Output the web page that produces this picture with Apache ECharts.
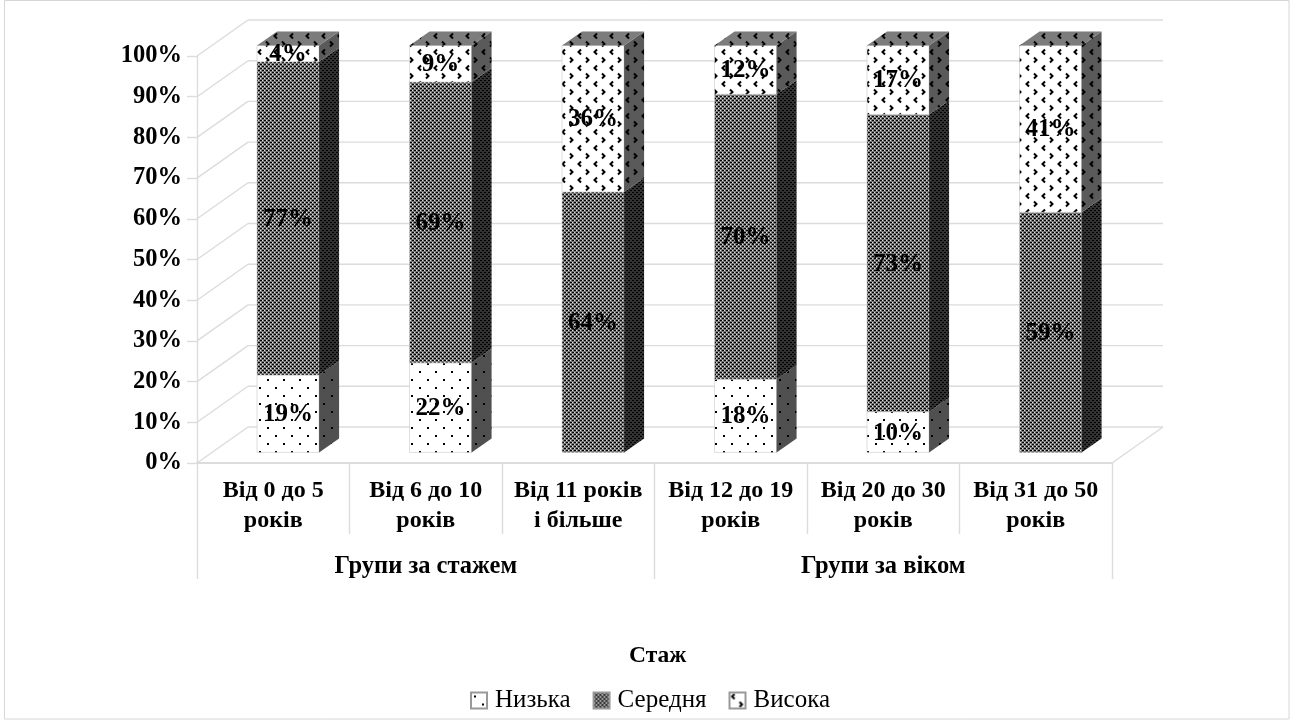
<!DOCTYPE html>
<html><head><meta charset="utf-8">
<style>html,body{margin:0;padding:0;background:#fff}#c{width:1290px;height:720px;filter:blur(0.5px)}</style>
<script src="https://cdn.jsdelivr.net/npm/echarts@6/dist/echarts.min.js"></script>
</head><body><div id="c"></div>
<script>
const categories = ['Від 0 до 5\nроків','Від 6 до 10\nроків','Від 11 років\nі більше','Від 12 до 19\nроків','Від 20 до 30\nроків','Від 31 до 50\nроків'];
const groups = ['Групи за стажем','Групи за віком'];
const low = [19,22,0,18,10,0];
const mid = [77,69,64,70,73,59];
const high = [4,9,36,12,17,41];
const yTicks = [0,10,20,30,40,50,60,70,80,90,100];
const seriesNames = ['Низька','Середня','Висока'];

const FONT = '"Liberation Serif","Times New Roman",serif';
const GRID = '#dcdcdc';

function tile(w, h, bg, draw){
  const c = document.createElement('canvas'); c.width = w; c.height = h;
  const g = c.getContext('2d'); g.fillStyle = bg; g.fillRect(0,0,w,h); draw(g);
  return {image:c, repeat:'repeat'};
}
const dots = bg => tile(16,16,bg,g=>{g.fillStyle='#000';g.fillRect(3,3,2,2);g.fillRect(11,11,2,2);});
const chev = bg => tile(16,16,bg,g=>{
  g.strokeStyle='#000';g.lineWidth=2;
  g.beginPath();g.moveTo(5,1.5);g.lineTo(2.5,4);g.lineTo(5,6.5);g.stroke();
  g.beginPath();g.moveTo(10,9.5);g.lineTo(12.5,12);g.lineTo(10,14.5);g.stroke();
});
const fine = (bg,hi) => tile(4,4,bg,g=>{
  g.fillStyle='#000';g.fillRect(0,0,2,1);g.fillRect(2,2,2,1);
  g.fillStyle=hi;g.fillRect(2,0,1,1);g.fillRect(0,2,1,1);
});
const fills = [
  {front:dots('#ffffff'), side:dots('#505050'), top:dots('#777777')},
  {front:fine('#777777','#e4e4e4'), side:fine('#303030','#3c3c3c'), top:fine('#777777','#e4e4e4')},
  {front:chev('#ffffff'), side:chev('#5a5a5a'), top:chev('#7c7c7c')}
];

const stack = [low, mid, high];

function barRender(si){
  return function(params, api){
    const i = api.value(0), v = api.value(1);
    if (!v) return {type:'group', children:[]};
    let base = 0; for (let k=0;k<si;k++) base += stack[k][i];
    const catW = api.size([1,0])[0];
    const bw = catW*0.407, dx = 20, dy = 14, ox = 14.8, oy = 10.6;
    const p0 = api.coord([i, base]), p1 = api.coord([i, base+v]);
    const x0 = p0[0]+ox-bw/2, x1 = x0+bw, yb = p0[1]-oy, yt = p1[1]-oy;
    const f = fills[si];
    const kids = [
      {type:'rect', shape:{x:x0,y:yt,width:bw,height:yb-yt}, style:{fill:f.front, stroke:'#c8c8c8', lineWidth:0.6}},
      {type:'polygon', shape:{points:[[x1,yt],[x1+dx,yt-dy],[x1+dx,yb-dy],[x1,yb]]}, style:{fill:f.side}}
    ];
    if (si === 2) kids.push({type:'polygon', shape:{points:[[x0,yt],[x1,yt],[x1+dx,yt-dy],[x0+dx,yt-dy]]}, style:{fill:f.top}});
    kids.push({type:'text', z2:10, style:{text:v+'%', x:(x0+x1)/2, y:(yb+yt)/2+1, align:'center', verticalAlign:'middle',
      font:'bold 25px '+FONT, fill:'#000'}});
    return {type:'group', children:kids};
  };
}

function wallRender(params, api){
  const v = api.value(1), cs = params.coordSys;
  const y = api.coord([0, v])[1], x0 = cs.x, x1 = cs.x+cs.width, dx = 51, dy = 36;
  const st = {stroke:GRID, lineWidth:1.4, fill:null};
  const kids = [
    {type:'line', shape:{x1:x0,y1:y,x2:x0+dx,y2:y-dy}, style:st},
    {type:'line', shape:{x1:x0+dx,y1:y-dy,x2:x1+dx,y2:y-dy}, style:st}
  ];
  if (v === 0) kids.push({type:'line', shape:{x1:x1,y1:y,x2:x1+dx,y2:y-dy}, style:st});
  return {type:'group', children:kids};
}

const barSeries = stack.map((arr,si)=>({
  name: seriesNames[si], type:'custom', renderItem: barRender(si),
  xAxisIndex:0, yAxisIndex:0, z:3+si, clip:false,
  itemStyle:{color:fills[si].front, borderColor:'#999', borderWidth:0.6},
  encode:{x:0,y:1},
  data: arr.map((v,i)=>[i,v])
}));

const chart = echarts.init(document.getElementById('c'), null, {renderer:'canvas'});
chart.setOption({
  animation:false,
  backgroundColor:'#fff',
  title:{text:'Стаж', left:624, top:639, textStyle:{fontFamily:FONT, fontWeight:'bold', fontSize:23.5, color:'#000'}},
  legend:{top:683, left:465, itemWidth:16, itemHeight:16, itemGap:22, data:seriesNames, icon:'rect',
    textStyle:{fontFamily:FONT, fontSize:25, color:'#000', padding:[0,0,0,3]}},
  grid:{left:197, right:178, top:56, bottom:257, containLabel:false},
  xAxis:[
    {type:'category', data:categories, position:'bottom',
      axisLine:{show:true, lineStyle:{color:GRID, width:2}},
      axisTick:{show:true, length:71, lineStyle:{color:GRID, width:1.4}},
      axisLabel:{interval:0, margin:13, lineHeight:30, fontFamily:FONT, fontWeight:'bold', fontSize:24, color:'#000'}},
    {type:'category', data:groups, position:'bottom', offset:71,
      axisLine:{show:false},
      axisTick:{show:true, length:45, lineStyle:{color:GRID, width:1.4}},
      axisLabel:{interval:0, margin:20, fontFamily:FONT, fontWeight:'bold', fontSize:24.5, color:'#000'}}
  ],
  yAxis:{type:'value', min:0, max:100, interval:10,
    axisLine:{show:true, lineStyle:{color:GRID, width:1.4}},
    axisTick:{show:true, length:10, lineStyle:{color:GRID, width:1.4}}, splitLine:{show:false},
    axisLabel:{formatter:'{value}%', margin:15, fontFamily:FONT, fontWeight:'bold', fontSize:24.5, color:'#000'}},
  graphic:[{type:'rect', silent:true, z:-1, shape:{x:4.5,y:0.5,width:1284.5,height:718.5}, style:{fill:null, stroke:'#d6d6d6', lineWidth:1}}],
  series:[
    {name:'walls', type:'custom', renderItem:wallRender, z:1, silent:true, clip:false, encode:{x:0,y:1},
      data: yTicks.map(v=>[0,v])},
    ...barSeries
  ]
});
</script></body></html>
